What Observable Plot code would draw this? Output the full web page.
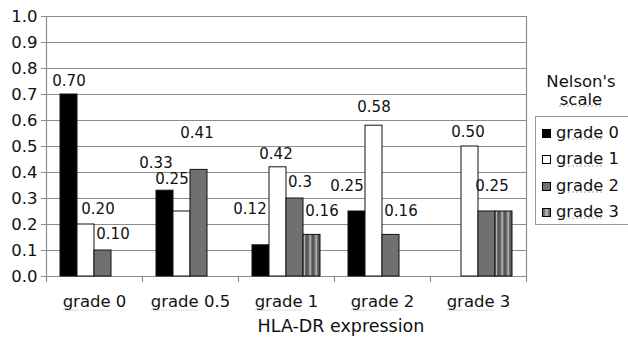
<!DOCTYPE html>
<html><head><meta charset="utf-8">
<script src="https://cdn.jsdelivr.net/npm/d3@7"></script>
<script src="https://cdn.jsdelivr.net/npm/@observablehq/plot@0.6"></script>
<style>
body{margin:0;background:#fff;font-family:"DejaVu Sans",sans-serif;color:#111}
#wrap{position:relative;width:628px;height:345px;overflow:hidden}
#xtitle{position:absolute;left:241px;width:200px;top:316px;text-align:center;font-size:17.5px;white-space:nowrap}
#ltitle{position:absolute;left:541px;width:80px;top:73px;text-align:center;font-size:16.5px;line-height:17.5px}
#legend{position:absolute;left:535px;top:116px;width:110px;height:109px;border:1px solid #999;box-sizing:border-box;font-size:16.3px}
.item{position:absolute;left:6px;height:20px;white-space:nowrap}
.sw{position:absolute;left:0;top:6px;width:9px;height:9px;box-sizing:border-box;border:1px solid #000}
.lt{position:absolute;left:14px;top:0;line-height:20px}
.sq{text-decoration-line:underline;text-decoration-style:dotted;text-decoration-color:#c8c8c8}
</style></head><body><div id="wrap"><div id="xtitle"></div><div id="ltitle"></div><div id="legend"></div></div>
<script>
// ---- data ----
const groups = ["grade 0", "grade 0.5", "grade 1", "grade 2", "grade 3"];
const series = ["grade 0", "grade 1", "grade 2", "grade 3"];
const grade0 = [0.70, 0.33, 0.12, 0.25, null];
const grade1 = [0.20, 0.25, 0.42, 0.58, 0.50];
const grade2 = [0.10, 0.41, 0.30, 0.16, 0.25];
const grade3 = [null, null, 0.16, null, 0.25];
const labels0 = ["0.70", "0.33", "0.12", "0.25", ""];
const labels1 = ["0.20", "0.25", "0.42", "0.58", "0.50"];
const labels2 = ["0.10", "0.41", "0.3", "0.16", "0.25"];
const labels3 = ["", "", "0.16", "", ""];
const yTicks = [0, 0.1, 0.2, 0.3, 0.4, 0.5, 0.6, 0.7, 0.8, 0.9, 1.0];
const xTitle = "HLA-DR expression";
const legendTitle = ["Nelson's", "scale"];

// ---- build table ----
const seriesValues = [grade0, grade1, grade2, grade3];
const seriesLabels = [labels0, labels1, labels2, labels3];
const rows = [];
series.forEach((s, si) => groups.forEach((g, gi) => {
  const v = seriesValues[si][gi];
  if (v != null) rows.push({group: g, series: s, value: v, label: seriesLabels[si][gi]});
}));

// label nudges (relative offsets from bar top, px)
const nudge = {
  "grade 0|grade 0": [0, -13], "grade 0|grade 1": [12, -15], "grade 0|grade 2": [10, -16],
  "grade 0.5|grade 0": [-9, -28], "grade 0.5|grade 1": [-10, -32], "grade 0.5|grade 2": [-2, -37],
  "grade 1|grade 0": [-11, -36], "grade 1|grade 1": [-2, -13], "grade 1|grade 2": [5, -16], "grade 1|grade 3": [10, -24],
  "grade 2|grade 0": [-10, -25], "grade 2|grade 1": [0, -19], "grade 2|grade 2": [10, -24],
  "grade 3|grade 1": [-2, -14], "grade 3|grade 2": [5, -25]
};
const labelMarks = rows.filter(d => d.label).map(d => {
  const [dx, dy] = nudge[d.group + "|" + d.series] || [0, -14];
  return Plot.text([d], {fx: "group", x: "series", y: "value", text: "label", dx, dy, fontSize: 15, fill: "#111"});
});

const colors = ["#000000", "#ffffff", "#707070", "url(#stripes)"];
const gridColor = "#8c8c8c";

const chart = Plot.plot({
  width: 628, height: 345,
  marginLeft: 44, marginRight: 100, marginTop: 16, marginBottom: 69,
  style: {fontFamily: "DejaVu Sans, sans-serif", fontSize: "16.5px", color: "#111", background: "transparent"},
  fx: {domain: groups, padding: 0},
  x: {domain: series, paddingInner: 0, paddingOuter: 0.77, axis: null},
  y: {domain: [0, 1]},
  color: {domain: series, range: colors},
  marks: [
    Plot.ruleY(yTicks, {stroke: gridColor, strokeWidth: 1.2}),
    Plot.frame({anchor: "left", facetAnchor: "left", stroke: gridColor, strokeWidth: 1.2}),
    Plot.frame({anchor: "right", facetAnchor: "right", stroke: gridColor, strokeWidth: 1.2, insetTop: 0, insetBottom: -5}),
    Plot.frame({anchor: "left", stroke: gridColor, strokeWidth: 1.2, insetTop: 260, insetBottom: -5}),
    Plot.barY(rows, {fx: "group", x: "series", y: "value", fill: "series", stroke: "#111", strokeWidth: 1}),
    ...labelMarks,
    Plot.axisY({ticks: yTicks, tickFormat: d3.format(".1f"), tickSize: 5, tickPadding: 4, stroke: gridColor, label: null}),
    Plot.axisFx({anchor: "bottom", tickSize: 0, tickPadding: 19, label: null})
  ]
});

// stripe pattern for "grade 3"
const defs = d3.select(chart).insert("defs", ":first-child");
const pat = defs.append("pattern").attr("id", "stripes").attr("patternUnits", "userSpaceOnUse")
  .attr("width", 6).attr("height", 10);
pat.append("rect").attr("width", 6).attr("height", 10).attr("fill", "#707070");
pat.append("rect").attr("x", 1.5).attr("width", 1.5).attr("height", 10).attr("fill", "#b0b0b0");
pat.append("rect").attr("x", 4.5).attr("width", 1).attr("height", 10).attr("fill", "#3c3c3c");

const wrap = document.getElementById("wrap");
wrap.insertBefore(chart, wrap.firstChild);
chart.style.position = "absolute"; chart.style.left = "0"; chart.style.top = "0";

// faint underline under "grade" in the tick labels (like a spell-check mark)
d3.select(chart).selectAll('g[aria-label="fx-axis tick label"] text').each(function() {
  const s = this.textContent; const i = s.indexOf(" ");
  if (i <= 0) return;
  const t = d3.select(this);
  t.text(null);
  const w = t.append("tspan").text(s.slice(0, i));
  t.append("tspan").text(s.slice(i));
  const bb = w.node().getBBox();
  d3.select(this.parentNode).append("line")
    .attr("x1", bb.x).attr("x2", bb.x + bb.width)
    .attr("y1", bb.y + bb.height - 1).attr("y2", bb.y + bb.height - 1)
    .attr("transform", this.getAttribute("transform"))
    .attr("stroke", "#c8c8c8").attr("stroke-width", 1).attr("stroke-dasharray", "1.5 1");
});

document.getElementById("xtitle").textContent = xTitle;
document.getElementById("ltitle").innerHTML = legendTitle[0] + "<br><span class='sq'>" + legendTitle[1] + "</span>";
const legend = d3.select("#legend");
series.forEach((s, i) => {
  const it = legend.append("div").attr("class", "item").style("top", (6 + i * 26.3) + "px");
  const sw = it.append("div").attr("class", "sw");
  if (i === 3) sw.style("background", "repeating-linear-gradient(90deg,#707070 0 2px,#b0b0b0 2px 5px,#707070 5px 7px)");
  else sw.style("background", colors[i]);
  const lab = it.append("div").attr("class", "lt");
  const j = s.indexOf(" ");
  lab.append("span").attr("class", "sq").text(s.slice(0, j));
  lab.append("span").text(s.slice(j));
});
</script></body></html>
